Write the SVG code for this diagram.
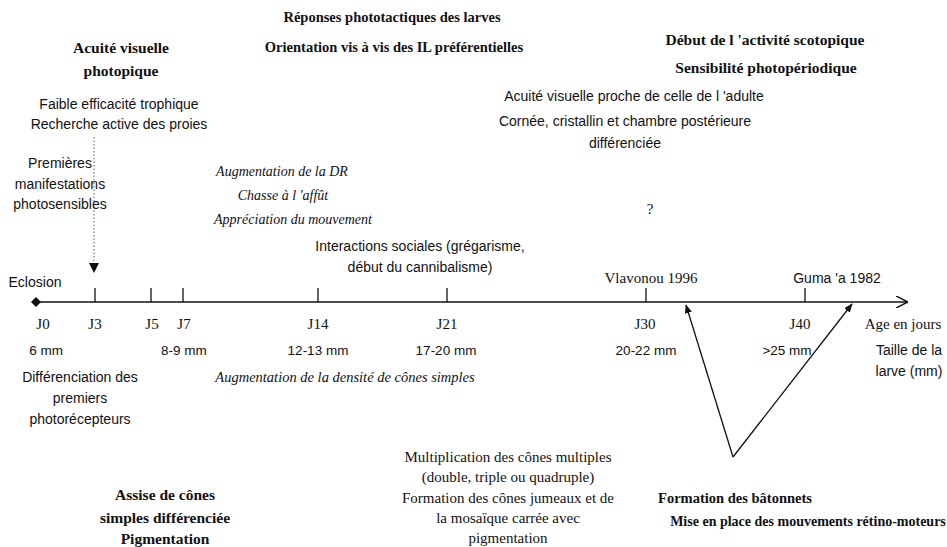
<svg xmlns="http://www.w3.org/2000/svg" width="947" height="547" viewBox="0 0 947 547">
<style>
text{fill:#111;text-anchor:middle}
.b{font-family:"Liberation Serif",serif;font-weight:bold;font-size:15.5px}
.bt{font-family:"Liberation Serif",serif;font-weight:bold;font-size:14.5px}
.s{font-family:"Liberation Sans",sans-serif;font-size:14px}
.m{font-family:"Liberation Sans",sans-serif;font-size:13.5px}
.r{font-family:"Liberation Serif",serif;font-size:15px}
.i{font-family:"Liberation Serif",serif;font-style:italic;font-size:14px}
.ln{stroke:#111;stroke-width:1.3;fill:none}
</style>
<defs>
<marker id="ah" viewBox="0 0 10 10" refX="9" refY="5" markerWidth="9" markerHeight="9" markerUnits="userSpaceOnUse" orient="auto">
<path d="M0,1 L10,5 L0,9 Z" fill="#111"/>
</marker>
<marker id="oa" viewBox="0 0 10 10" refX="10" refY="5" markerWidth="12" markerHeight="12" markerUnits="userSpaceOnUse" orient="auto">
<path d="M0,0 L10,5 L0,10" fill="none" stroke="#111" stroke-width="1.2"/>
</marker>
</defs>
<g id="connectors">
<line class="ln" x1="36" y1="302" x2="908" y2="302" marker-end="url(#oa)"/>
<path d="M36,297 L41,302 L36,307 L31,302 Z" fill="#111"/>
<g class="ln">
<line x1="95" y1="288" x2="95" y2="302"/>
<line x1="151" y1="288" x2="151" y2="302"/>
<line x1="183" y1="288" x2="183" y2="302"/>
<line x1="318" y1="288" x2="318" y2="302"/>
<line x1="447" y1="288" x2="447" y2="302"/>
<line x1="646" y1="288" x2="646" y2="302"/>
<line x1="805" y1="288" x2="805" y2="302"/>
</g>
<line x1="94" y1="137" x2="94" y2="262" stroke="#333" stroke-width="0.8" stroke-dasharray="1.5,2"/>
<path d="M89,263 L99,263 L94,273 Z" fill="#111"/>
<line class="ln" x1="733" y1="457" x2="686" y2="305" marker-end="url(#ah)"/>
<line class="ln" x1="733" y1="457" x2="852" y2="304" marker-end="url(#ah)"/>
</g>
<g id="top-center">
<text class="bt" x="392" y="22">Réponses phototactiques des larves</text>
<text class="bt" x="394" y="52">Orientation vis à vis des IL préférentielles</text>
</g>
<g id="acuite-photopique">
<text class="b" x="121" y="53">Acuité visuelle</text>
<text class="b" x="121" y="76">photopique</text>
</g>
<g id="trophique">
<text class="s" x="119" y="109">Faible efficacité trophique</text>
<text class="s" x="119" y="129">Recherche active des proies</text>
</g>
<g id="premieres">
<text class="s" x="60" y="168">Premières</text>
<text class="s" x="60" y="189">manifestations</text>
<text class="s" x="60" y="209">photosensibles</text>
</g>
<g id="scotopique">
<text class="b" x="765" y="45">Début  de l 'activité scotopique</text>
<text class="b" x="766" y="73">Sensibilité  photopériodique</text>
</g>
<g id="adulte">
<text class="s" x="634" y="101">Acuité visuelle proche de celle de l 'adulte</text>
<text class="s" x="625" y="126">Cornée, cristallin et chambre postérieure</text>
<text class="s" x="625" y="148">différenciée</text>
</g>
<g id="chasse">
<text class="i" x="282" y="176">Augmentation de la DR</text>
<text class="i" x="283" y="200">Chasse à l 'affût</text>
<text class="i" x="293" y="224">Appréciation du mouvement</text>
</g>
<text class="r" x="650" y="214">?</text>
<g id="interactions">
<text class="s" x="420" y="251">Interactions sociales (grégarisme,</text>
<text class="s" x="420" y="272">début du cannibalisme)</text>
</g>
<g id="eclosion"><text class="s" x="35" y="287">Eclosion</text></g>
<g id="refs">
<text class="r" x="651" y="283">Vlavonou 1996</text>
<text class="s" x="837" y="283">Guma 'a 1982</text>
</g>
<g id="days">
<text class="r" x="43" y="329">J0</text>
<text class="r" x="95" y="329">J3</text>
<text class="r" x="152" y="329">J5</text>
<text class="r" x="184" y="329">J7</text>
<text class="r" x="318" y="329">J14</text>
<text class="r" x="447" y="329">J21</text>
<text class="r" x="645" y="329">J30</text>
<text class="r" x="800" y="329">J40</text>
<text class="r" x="903" y="329">Age en jours</text>
</g>
<g id="sizes">
<text class="m" x="46" y="355">6 mm</text>
<text class="m" x="184" y="355">8-9 mm</text>
<text class="m" x="318" y="355">12-13 mm</text>
<text class="m" x="446" y="355">17-20 mm</text>
<text class="m" x="646" y="355">20-22 mm</text>
<text class="m" x="787" y="355">&gt;25 mm</text>
<text class="s" x="909" y="355">Taille de la</text>
<text class="s" x="909" y="376">larve (mm)</text>
</g>
<g id="differenciation">
<text class="s" x="80" y="382">Différenciation des</text>
<text class="s" x="80" y="403">premiers</text>
<text class="s" x="80" y="424">photorécepteurs</text>
</g>
<g id="densite"><text class="i" x="345" y="382" style="font-size:14.5px">Augmentation de la densité de cônes simples</text></g>
<g id="assise">
<text class="b" x="165" y="500">Assise de cônes</text>
<text class="b" x="165" y="523">simples différenciée</text>
<text class="b" x="165" y="544">Pigmentation</text>
</g>
<g id="multiplication">
<text class="r" x="508" y="462">Multiplication des cônes multiples</text>
<text class="r" x="508" y="482">(double, triple ou quadruple)</text>
<text class="r" x="508" y="503">Formation des cônes jumeaux et de</text>
<text class="r" x="508" y="523">la mosaïque carrée avec</text>
<text class="r" x="508" y="543">pigmentation</text>
</g>
<g id="batonnets">
<text class="bt" x="735" y="503">Formation des bâtonnets</text>
<text class="bt" x="808" y="526" style="font-size:14px">Mise en place des mouvements rétino-moteurs</text>
</g>
</svg>
